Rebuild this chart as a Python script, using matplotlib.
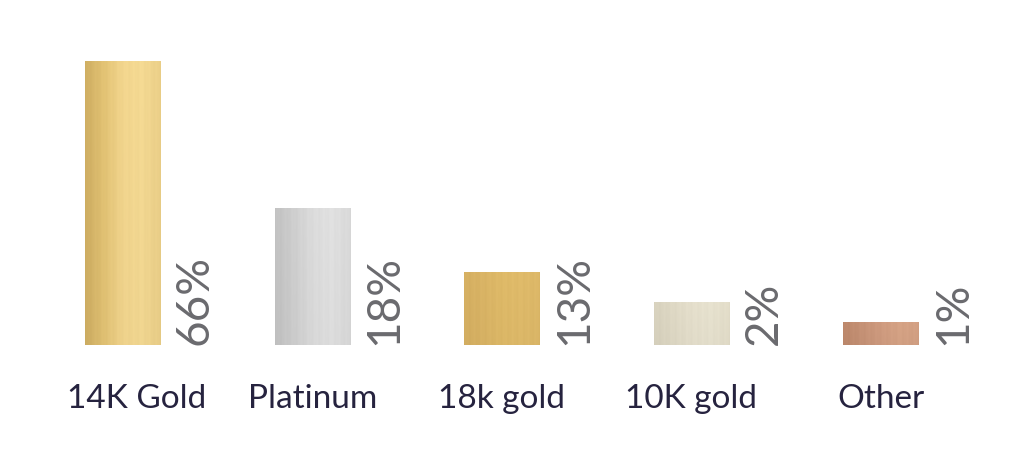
import numpy as np
import matplotlib.pyplot as plt
from matplotlib.colors import to_rgb

categories = ["14K Gold", "Platinum", "18k gold", "10K gold", "Other"]
shares = [66, 18, 13, 2, 1]
# bar heights as drawn in the picture (not proportional to the shares)
bar_heights = [284, 137, 73, 43, 23]

# colour stops left -> right for each metal texture
metal_stops = [
    ["#cfae62", "#e3c374", "#f3d68e", "#f5da93", "#ebcf88"],
    ["#c2c2c2", "#cfcfcf", "#dcdcdc", "#e1e1e1", "#d9d9d9"],
    ["#d6b062", "#dab465", "#dfba68", "#e0bb6a", "#ddb868"],
    ["#d8d2be", "#dfd9c5", "#e5dfcc", "#e7e2cf", "#e3ddc9"],
    ["#bd886b", "#c69276", "#cf9b7f", "#d6a385", "#d3a083"],
]


def makeTexture(stops, ncols=120, nrows=60):
    colours = np.array([to_rgb(c) for c in stops])
    xs = np.linspace(0, 1, ncols)
    pos = np.linspace(0, 1, len(stops))
    row = np.stack([np.interp(xs, pos, colours[:, k]) for k in range(3)], axis=1)
    # faint brushed streaks
    streak = 0.006 * np.sin(xs * 61.0) + 0.004 * np.sin(xs * 149.0)
    row = np.clip(row + streak[:, None], 0, 1)
    img = np.repeat(row[None, :, :], nrows, axis=0)
    shade = np.linspace(1.0, 0.98, nrows)[:, None, None]
    return np.clip(img * shade, 0, 1)


fig = plt.figure(figsize=(10.24, 4.76), dpi=100)
ax = fig.add_axes([0, 0, 1, 1])

x = np.arange(len(categories))
barWidth = 0.4
bars = ax.bar(x, bar_heights, width=barWidth, facecolor="none", edgecolor="none")

for i, patch in enumerate(bars):
    x0 = patch.get_x()
    x1 = x0 + patch.get_width()
    im = ax.imshow(makeTexture(metal_stops[i]), extent=[x0, x1, 0, patch.get_height()],
                   aspect="auto", origin="upper", interpolation="bilinear", zorder=2)
    im.set_clip_path(patch)

    ax.text(x1 + 0.18, 0, f"{shares[i]}%", rotation=90, ha="center", va="bottom",
            fontsize=33, color="#6a6a6e", family="Lato")
    ax.text(x[i] + (0.07 if i == 0 else 0.0), -54, categories[i], ha="center", va="center",
            fontsize=24, color="#26233f", family="Lato")

ax.set_xlim(-0.649, 4.755)
ax.set_ylim(-131, 345)
ax.axis("off")

fig.savefig("out.png", dpi=100, facecolor="white")
